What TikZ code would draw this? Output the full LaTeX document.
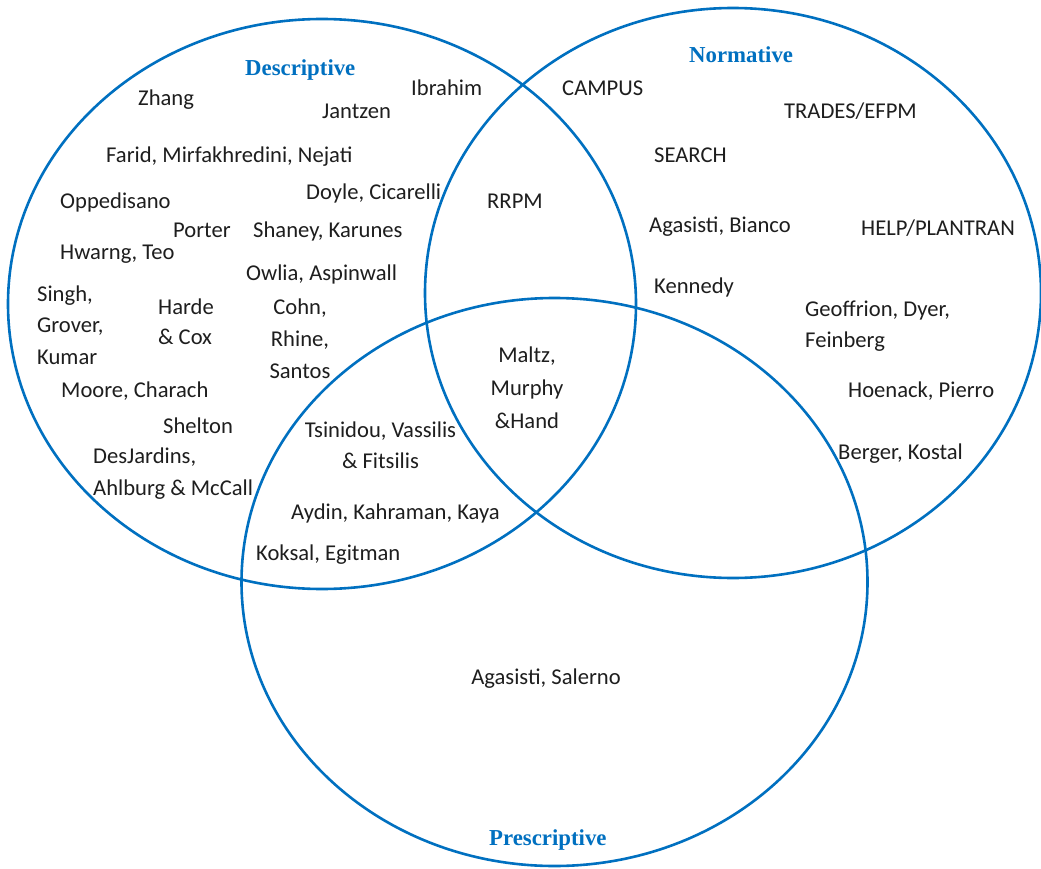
\documentclass[tikz,border=0pt]{standalone}
\usepackage{fontspec}
\setmainfont{Carlito}
\newfontfamily\titlefont{Liberation Serif}
\definecolor{vblue}{RGB}{0,112,192}
\definecolor{vtext}{RGB}{30,30,30}
\tikzset{
  setline/.style={draw=vblue, line width=2.6pt},
  lbl/.style={anchor=base west, inner sep=0pt, text=vtext, font=\fontsize{22.6}{32}\selectfont},
  clbl/.style={anchor=base, inner sep=0pt, text=vtext, font=\fontsize{22.6}{32}\selectfont},
  ttl/.style={anchor=base west, inner sep=0pt, text=vblue, font=\titlefont\bfseries\fontsize{22.8}{28}\selectfont}
}
\begin{document}
\begin{tikzpicture}[x=1pt,y=-1pt]
\useasboundingbox (0,0) rectangle (1041,869);
\fill[white] (0,0) rectangle (1041,869);
% sets
\draw[setline] (322,304) ellipse [x radius=314pt, y radius=285pt];
\draw[setline] (733,293) ellipse [x radius=308pt, y radius=285pt];
\draw[setline] (554.5,582) ellipse [x radius=313pt, y radius=284pt];
% titles
\node[ttl] (tdesc) at (245,76) {Descriptive};
\node[ttl] (tnorm) at (689,63) {Normative};
\node[ttl] (tpres) at (489,845) {Prescriptive};
% descriptive only
\node[lbl] (zhang) at (138,106) {Zhang};
\node[lbl] (ibrahim) at (411,96) {Ibrahim};
\node[lbl] (jantzen) at (322,119) {Jantzen};
\node[lbl] (farid) at (106,163) {Farid, Mirfakhredini, Nejati};
\node[lbl] (doyle) at (306,200) {Doyle, Cicarelli};
\node[lbl] (opped) at (60,209) {Oppedisano};
\node[lbl] (porter) at (173,237) {Porter};
\node[lbl] (shaney) at (253,237) {Shaney, Karunes};
\node[lbl] (hwarng) at (60,259) {Hwarng, Teo};
\node[lbl] (owlia) at (246,280) {Owlia, Aspinwall};
\node[lbl] (singa) at (37,301) {Singh,};
\node[lbl] (singb) at (37,332) {Grover,};
\node[lbl] (singc) at (37,364) {Kumar};
\node[lbl] (hardea) at (158,314) {Harde};
\node[lbl] (hardeb) at (158,344) {\& Cox};
\node[clbl] (cohna) at (300,314) {Cohn,};
\node[clbl] (cohnb) at (300,346) {Rhine,};
\node[clbl] (cohnc) at (300,378) {Santos};
\node[lbl] (moore) at (61,397) {Moore, Charach};
\node[lbl] (shelton) at (163,433) {Shelton};
\node[lbl] (desja) at (93,463) {DesJardins,};
\node[lbl] (desjb) at (93,495) {Ahlburg \& McCall};
% descriptive & prescriptive
\node[clbl] (tsina) at (380.5,437) {Tsinidou, Vassilis};
\node[clbl] (tsinb) at (380.5,468) {\& Fitsilis};
\node[lbl] (aydin) at (291,519) {Aydin, Kahraman, Kaya};
\node[lbl] (koksal) at (256,560) {Koksal, Egitman};
% descriptive & normative
\node[lbl] (rrpm) at (487,208) {RRPM};
% all three
\node[clbl] (maltza) at (527,362) {Maltz,};
\node[clbl] (maltzb) at (527,395) {Murphy};
\node[clbl] (maltzc) at (527,428) {\&Hand};
% normative only
\node[lbl] (campus) at (562,96) {CAMPUS};
\node[lbl] (trades) at (784,119) {TRADES/EFPM};
\node[lbl] (search) at (654,163) {SEARCH};
\node[lbl] (agbian) at (649,233) {Agasisti, Bianco};
\node[lbl] (help) at (861,236) {HELP/PLANTRAN};
\node[lbl] (kennedy) at (654,293) {Kennedy};
\node[lbl] (geoffa) at (805,316) {Geoffrion, Dyer,};
\node[lbl] (geoffb) at (805,347) {Feinberg};
\node[lbl] (hoenack) at (848,397) {Hoenack, Pierro};
\node[lbl] (berger) at (838,459) {Berger, Kostal};
% prescriptive only
\node[clbl] (agsal) at (546,684) {Agasisti, Salerno};
\end{tikzpicture}
\end{document}
